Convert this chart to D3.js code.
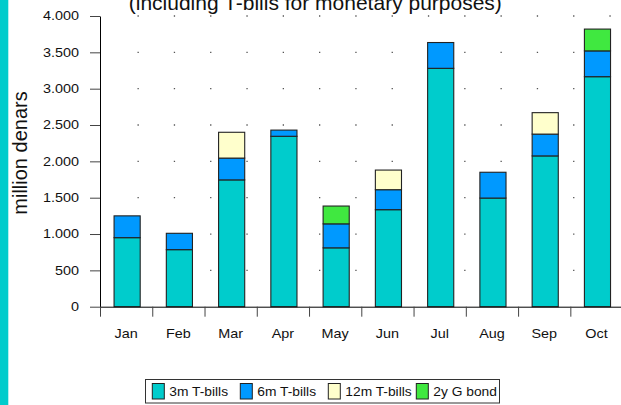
<!DOCTYPE html>
<html>
<head>
<meta charset="utf-8">
<script src="https://cdn.jsdelivr.net/npm/d3@7"></script>
<style>
  body { margin: 0; background: #fff; }
  svg { display: block; font-family: 'Liberation Sans', Arial, sans-serif; }
</style>
</head>
<body>
<script>
const months = ['Jan', 'Feb', 'Mar', 'Apr', 'May', 'Jun', 'Jul', 'Aug', 'Sep', 'Oct'];
const bills3m = [950, 785, 1745, 2345, 810, 1335, 3280, 1495, 2075, 3165];
const bills6m = [300, 225, 300, 85, 330, 275, 355, 355, 300, 355];
const bills12m = [0, 0, 355, 0, 0, 270, 0, 0, 295, 0];
const bond2y = [0, 0, 0, 0, 245, 0, 0, 0, 0, 300];
const seriesNames = ['3m T-bills', '6m T-bills', '12m T-bills', '2y G bond'];
const seriesColors = ['#00cccc', '#0099ff', '#ffffcc', '#40e840'];
const yTicks = [0, 500, 1000, 1500, 2000, 2500, 3000, 3500, 4000];

const W = 621;
const H = 405;
const plot = { left: 100, right: 622.6, top: 16, bottom: 306.7 };

// stretch text horizontally (reference glyphs are wider than Arial)
function stretch(sel, k = 1.2) {
  sel.each(function () {
    const t = d3.select(this);
    const x = +t.attr('x') || 0;
    t.attr('x', x / k).attr('transform', `scale(${k},1)`);
  });
}

const fmt = d3.formatLocale({ decimal: ',', thousands: '.', grouping: [3], currency: ['', ''] }).format(',d');

const rows = months.map((m, i) => ({
  month: m,
  [seriesNames[0]]: bills3m[i],
  [seriesNames[1]]: bills6m[i],
  [seriesNames[2]]: bills12m[i],
  [seriesNames[3]]: bond2y[i],
}));
const stacked = d3.stack().keys(seriesNames)(rows);
const color = d3.scaleOrdinal().domain(seriesNames).range(seriesColors);

const svg = d3.select('body')
  .append('svg')
  .attr('width', W)
  .attr('height', H);

// left strip
svg.append('rect')
  .attr('x', 0).attr('y', 0)
  .attr('width', 8.3).attr('height', H)
  .style('fill', '#00cccc');

const x = d3.scaleBand()
  .domain(months)
  .range([plot.left, plot.right])
  .paddingInner(0.5)
  .paddingOuter(0.25);

const xEdge = d3.scaleLinear()
  .domain([0, months.length])
  .range([plot.left, plot.right]);

const y = d3.scaleLinear()
  .domain([0, 4000])
  .range([plot.bottom, plot.top]);

// dotted grid
svg.append('g')
  .selectAll('line')
  .data(yTicks.filter(d => d > 0))
  .enter()
  .append('line')
  .attr('x1', 137.5)
  .attr('x2', W)
  .attr('y1', d => y(d))
  .attr('y2', d => y(d))
  .style('stroke', '#555')
  .style('stroke-width', 1.3)
  .style('stroke-dasharray', '1.3,35');

// bars
svg.append('g')
  .selectAll('g')
  .data(stacked)
  .enter()
  .append('g')
  .style('fill', d => color(d.key))
  .selectAll('rect')
  .data(d => d.filter(s => s[1] > s[0]))
  .enter()
  .append('rect')
  .attr('x', d => x(d.data.month) + 1)
  .attr('width', x.bandwidth())
  .attr('y', d => y(d[1]))
  .attr('height', d => y(d[0]) - y(d[1]))
  .style('stroke', '#222')
  .style('stroke-width', 1.1);

// Y axis
const yAxis = svg.append('g')
  .attr('transform', `translate(${plot.left}, 0)`)
  .call(d3.axisLeft(y).tickValues(yTicks).tickFormat(fmt).tickSize(10).tickSizeOuter(0).tickPadding(11));
yAxis.select('.domain').style('stroke', '#000');
yAxis.selectAll('.tick line').style('stroke', '#444');
yAxis.selectAll('text')
  .style('font-size', '12px')
  .style('font-family', "'Liberation Sans', Arial, sans-serif")
  .style('fill', '#111')
  .call(stretch);

// X axis boundary ticks
const xAxis = svg.append('g')
  .attr('transform', `translate(0, ${plot.bottom})`)
  .call(d3.axisBottom(xEdge).tickValues(d3.range(months.length + 1)).tickFormat('').tickSize(10).tickSizeOuter(0));
xAxis.select('.domain').style('stroke', '#000');
xAxis.selectAll('.tick line').style('stroke', '#444');

// X labels
const xLabels = svg.append('g')
  .attr('transform', `translate(0, ${plot.bottom})`)
  .call(d3.axisBottom(x).tickSize(0).tickPadding(23));
xLabels.select('.domain').remove();
xLabels.selectAll('text')
  .style('font-size', '12px')
  .style('font-family', "'Liberation Sans', Arial, sans-serif")
  .style('fill', '#111')
  .call(stretch);

// Y title
svg.append('text')
  .attr('transform', 'translate(27, 153) rotate(-90)')
  .attr('text-anchor', 'middle')
  .style('font-size', '20px')
  .style('fill', '#111')
  .text('million denars');

// Title (partly cut off at the top, as in the source)
svg.append('text')
  .attr('x', 315.3)
  .attr('y', 10)
  .attr('text-anchor', 'middle')
  .style('font-size', '21px')
  .style('fill', '#111')
  .text('(including T-bills for monetary purposes)');

// Legend
const leg = svg.append('g');
leg.append('rect')
  .attr('x', 145.5).attr('y', 379.5)
  .attr('width', 354).attr('height', 23.5)
  .style('fill', '#fff')
  .style('stroke', '#333');

const slot = 88;
const items = leg.selectAll('g.item')
  .data(seriesNames)
  .enter()
  .append('g')
  .attr('class', 'item')
  .attr('transform', (d, i) => `translate(${152.3 + i * slot}, 0)`);

items.append('rect')
  .attr('x', 0).attr('y', 383.5)
  .attr('width', 12).attr('height', 15.5)
  .style('fill', d => color(d))
  .style('stroke', '#222');

items.append('text')
  .attr('x', 17)
  .attr('y', 396)
  .style('font-size', '12px')
  .style('fill', '#111')
  .text(d => d)
  .call(stretch, 1.15);
</script>
</body>
</html>
